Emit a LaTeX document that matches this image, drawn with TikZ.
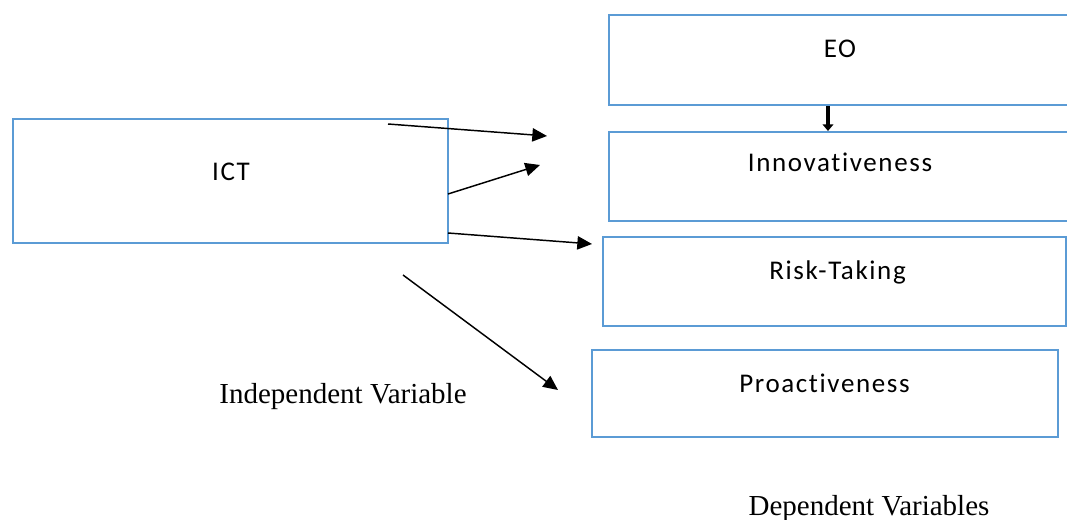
\documentclass[tikz,border=0pt]{standalone}
\usepackage{fontspec}
\setmainfont{Liberation Serif}
\newfontfamily\boxfont[LetterSpace=6,Ligatures={NoCommon}]{Carlito}
\usetikzlibrary{arrows.meta}
\definecolor{boxblue}{RGB}{91,155,213}
\tikzset{
  box/.style={draw=boxblue, line width=1.5pt, rectangle, inner sep=0pt},
  boxtext/.style={anchor=base, inner sep=0pt, font=\boxfont\fontsize{20.25pt}{24pt}\selectfont},
  caption/.style={anchor=base, inner sep=0pt, font=\fontsize{21.75pt}{26pt}\selectfont},
  link/.style={draw=black, line width=1.1pt, -{Triangle[length=11pt,width=10pt]}},
  thicklink/.style={draw=black, line width=2.6pt, -{Triangle[length=5pt,width=8pt]}}
}
\begin{document}
\begin{tikzpicture}[x=0.75pt,y=-0.75pt]
\useasboundingbox (0,0) rectangle (1067,520);
\clip (0,0) rectangle (1067,520);
% boxes
\node[box, minimum width=435*0.75pt, minimum height=124*0.75pt] (ict) at (230.5,181) {};
\node[box, minimum width=466*0.75pt, minimum height=90*0.75pt] (eo) at (842,60) {};
\node[box, minimum width=466*0.75pt, minimum height=89*0.75pt] (innov) at (842,176.5) {};
\node[box, minimum width=463*0.75pt, minimum height=89*0.75pt] (risk) at (834.5,281.5) {};
\node[box, minimum width=466*0.75pt, minimum height=87*0.75pt] (pro) at (825,393.5) {};
% box texts
\node[boxtext] (ictt) at (231,181) {ICT};
\node[boxtext] (eot) at (840,58) {EO};
\node[boxtext] (innovt) at (840,172) {Innovativeness};
\node[boxtext] (riskt) at (837.5,280) {Risk-Taking};
\node[boxtext] (prot) at (824.5,392) {Proactiveness};
% captions
\node[caption] (indep) at (343,403) {Independent Variable};
\node[caption] (dep) at (869,515) {Dependent Variables};
% connector ends
\coordinate (a1s) at (388,124);
\coordinate (a1e) at (547,136);
\coordinate (a2s) at (448,194);
\coordinate (a2e) at (540,165);
\coordinate (a3s) at (448,233);
\coordinate (a3e) at (592,244);
\coordinate (a4s) at (403,275);
\coordinate (a4e) at (558,390);
\coordinate (eox) at (828,0);
% connectors
\draw[link] (a1s) -- (a1e);
\draw[link] (a2s) -- (a2e);
\draw[link] (a3s) -- (a3e);
\draw[link] (a4s) -- (a4e);
\draw[thicklink] (eo.south -| eox) -- (innov.north -| eox);
\end{tikzpicture}
\end{document}
